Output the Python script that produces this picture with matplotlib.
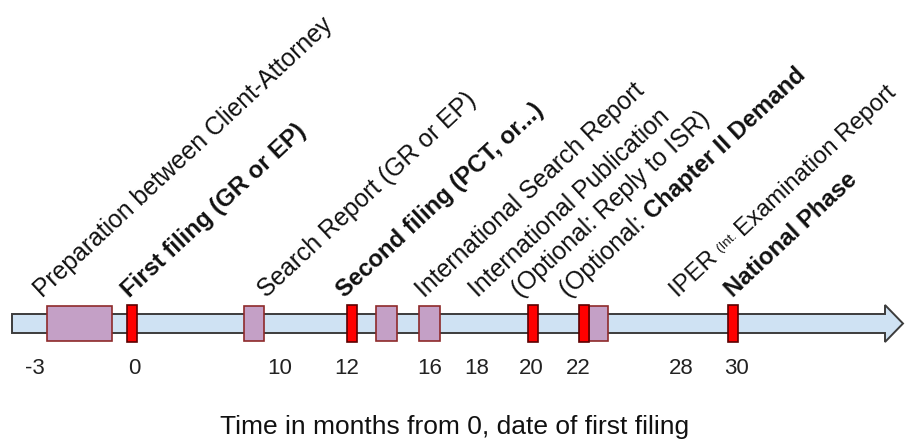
import matplotlib
matplotlib.use('Agg')
import matplotlib.pyplot as plt
from matplotlib.patches import Rectangle, Polygon
import matplotlib.transforms as mtransforms
import numpy as np

plt.rcParams['font.family'] = ['Liberation Sans', 'DejaVu Sans']

# ---------------- data (schematic timeline positions) ----------------
tick_labels = ['-3', '0', '10', '12', '16', '18', '20', '22', '28', '30']
tick_pos = [35, 134, 280, 347, 430, 477, 531, 578, 681, 736]

# red markers (filing / deadline events): centre positions
marker_pos = [132, 352, 533, 584, 733]

# purple boxes (periods): start and end positions
box_start = [47, 244, 376, 419, 589]
box_end = [112, 264, 397, 440, 608]

# event labels: start positions and rich text pieces (text, weight, size, rise)
label_pos = [43, 130, 267, 345, 425, 478, 521, 569, 678, 733]
label_pieces = [
    [("Preparation between Client-Attorney", 'normal', 17.8, 0)],
    [("First filing (GR or EP)", 'bold', 17.2, 0)],
    [("Search Report (GR or EP)", 'normal', 17.8, 0)],
    [("Second filing (PCT, or...)", 'bold', 17.2, 0)],
    [("International Search Report", 'normal', 17.8, 0)],
    [("International Publication", 'normal', 17.8, 0)],
    [("(Optional: Reply to ISR)", 'normal', 17.8, 0)],
    [("(Optional: ", 'normal', 17.8, 0), ("Chapter II Demand", 'bold', 17.2, 0)],
    [("IPER ", 'normal', 17.2, 0), ("(Int. ", 'normal', 9.5, 4), ("Examination Report", 'normal', 17.2, 0)],
    [("National Phase", 'bold', 17.2, 0)],
]

xlabel = "Time in months from 0, date of first filing"

# timeline arrow geometry
arrow_start, arrow_end = 12, 903
arrow_y = 323.5
body_half, head_half, head_len = 9.5, 18.5, 18

# ---------------- figure ----------------
fig = plt.figure(figsize=(9.09, 4.44), dpi=100)
ax = fig.add_axes([0, 0, 1, 1])
ax.set_xlim(0, 909)
ax.set_ylim(444, 0)
ax.axis('off')

# arrow
hx = arrow_end - head_len
arrow_pts = [(arrow_start, arrow_y - body_half), (hx, arrow_y - body_half),
             (hx, arrow_y - head_half), (arrow_end, arrow_y),
             (hx, arrow_y + head_half), (hx, arrow_y + body_half),
             (arrow_start, arrow_y + body_half)]
ax.add_patch(Polygon(arrow_pts, closed=True, facecolor='#cfe2f3',
                     edgecolor='#3c3c3c', linewidth=1.4, zorder=1))

# purple boxes
for s, e in zip(box_start, box_end):
    ax.add_patch(Rectangle((s, arrow_y - 17.5), e - s, 35, facecolor='#c4a0c6',
                           edgecolor='#8e2a2a', linewidth=1.2, zorder=2))

# red markers
mw = 10
for m in marker_pos:
    ax.add_patch(Rectangle((m - mw / 2, arrow_y - 18.5), mw, 37, facecolor='#ff0000',
                           edgecolor='#5a0000', linewidth=1.2, zorder=3))

# tick labels
for p, t in zip(tick_pos, tick_labels):
    ax.text(p, 368, t, fontsize=16, ha='center', va='center', color='#222222')

# x label
ax.text(455, 427, xlabel, fontsize=19, ha='center', va='center', color='#111111')

# rotated rich labels
renderer = fig.canvas.get_renderer()
angle = 43
ca, sa = np.cos(np.radians(angle)), np.sin(np.radians(angle))
label_y = 298


def text_width(txt, prop):
    core = txt.rstrip(' ')
    n_trail = len(txt) - len(core)
    w = renderer.get_text_width_height_descent(core, prop, ismath=False)[0] if core else 0
    if n_trail:
        w_a = renderer.get_text_width_height_descent("a a", prop, ismath=False)[0]
        w_b = renderer.get_text_width_height_descent("aa", prop, ismath=False)[0]
        w += n_trail * (w_a - w_b)
    return w


for x0, pieces in zip(label_pos, label_pieces):
    off = 0.0
    for txt, weight, size, rise in pieces:
        tr = mtransforms.offset_copy(ax.transData, fig=fig,
                                     x=off * ca - rise * sa, y=off * sa + rise * ca,
                                     units='dots')
        t = ax.text(x0, label_y, txt, fontsize=size, fontweight=weight,
                    rotation=angle, rotation_mode='anchor', ha='left',
                    va='baseline', transform=tr, color='#111111')
        off += text_width(txt, t.get_fontproperties())

fig.savefig('out.png', dpi=100)
